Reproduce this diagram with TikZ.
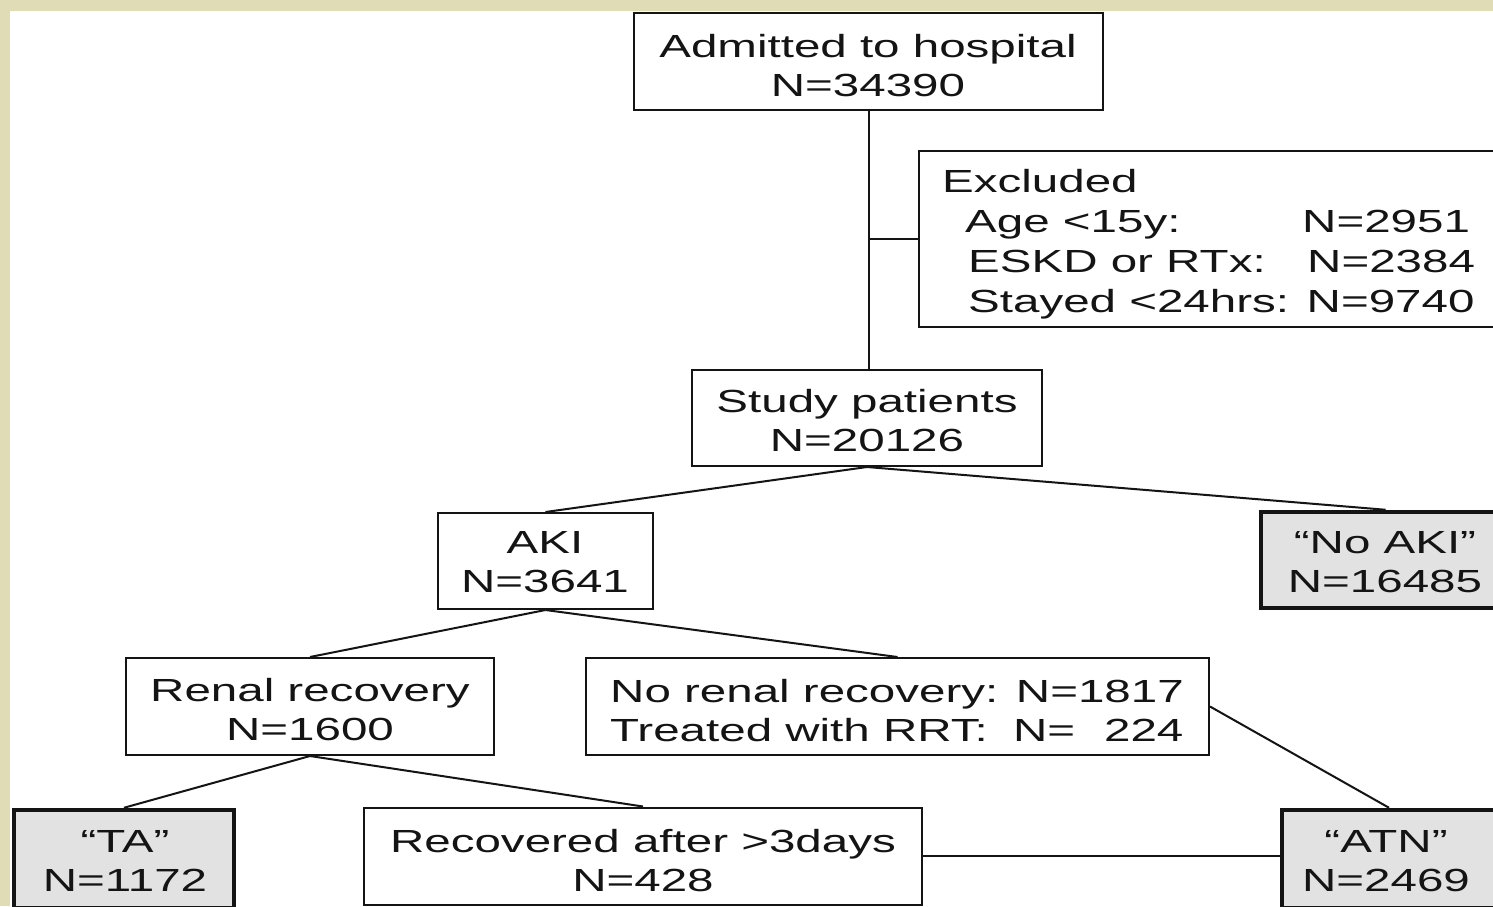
\documentclass[tikz,border=0pt]{standalone}
\usepackage{fontspec}
\setmainfont{Liberation Sans}
\usepackage{graphicx}
\usetikzlibrary{calc}
\definecolor{frame}{RGB}{224,220,181}
\definecolor{shade}{RGB}{226,226,226}
\definecolor{ink}{RGB}{20,20,20}
% text is set wide: Arial-like letters stretched horizontally
\newcommand{\wx}[1]{\scalebox{1.485}[1]{#1}}
\newcommand{\twolines}[2]{\wx{\begin{tabular}[b]{@{}c@{}}#1\\#2\end{tabular}}}

\begin{document}
\begin{tikzpicture}[x=1pt,y=-1pt,
  box/.style={draw=ink, line width=2pt, fill=white, inner sep=0pt, rectangle},
  keybox/.style={draw=ink, line width=4.5pt, fill=shade, inner sep=0pt, rectangle},
  txt/.style={inner sep=0pt, font=\fontsize{32}{39}\selectfont, anchor=base, text=ink},
  lefttxt/.style={txt, anchor=base west},
  link/.style={draw=ink, line width=2pt}]

\useasboundingbox (0,0) rectangle (1493,906);
\fill[frame] (0,0) rectangle (1493,906);
\fill[white] (10,11) rectangle (1493,906);
\clip (0,0) rectangle (1493,906);

% boxes
\node[box, minimum width=469pt, minimum height=97pt] (adm) at (868.5,61.5) {};
\node[box, minimum width=601pt, minimum height=176pt] (exc) at (1219.5,239) {};
\node[box, minimum width=350pt, minimum height=96pt] (study) at (867,418) {};
\node[box, minimum width=215pt, minimum height=96pt] (aki) at (545.5,561) {};
\node[keybox, minimum width=249pt, minimum height=96pt] (noaki) at (1385.5,560) {};
\node[box, minimum width=368pt, minimum height=97pt] (renal) at (310,706.5) {};
\node[box, minimum width=623pt, minimum height=97pt] (norenal) at (897.5,706.5) {};
\node[keybox, minimum width=220pt, minimum height=98pt] (ta) at (124,859) {};
\node[box, minimum width=558pt, minimum height=97pt] (rec) at (643,856) {};
\node[keybox, minimum width=214pt, minimum height=98pt] (atn) at (1389,859) {};

% texts
\node[txt] (admT) at (868,96) {\twolines{Admitted to hospital}{N=34390}};
\node[txt] (studyT) at (867,451) {\twolines{Study patients}{N=20126}};
\node[txt] (akiT) at (545,592.5) {\twolines{AKI}{N=3641}};
\node[txt] (noakiT) at (1385,592.5) {\twolines{“No AKI”}{N=16485}};
\node[txt] (renalT) at (310,740) {\twolines{Renal recovery}{N=1600}};
\node[txt] (recT) at (643,891) {\twolines{Recovered after >3days}{N=428}};
\node[txt] (taT) at (125,891) {\twolines{“TA”}{N=1172}};
\node[txt] (atnT) at (1386,891) {\twolines{“ATN”}{N=2469}};

\node[lefttxt] (norenalT) at (610,741) {\wx{\begin{tabular}[b]{@{}l@{}}No renal recovery: N=1817\\Treated with RRT:\hspace{17pt}N=\hspace{19.5pt}224\end{tabular}}};

\node[lefttxt] (excT) at (942,192) {\wx{Excluded}};
\node[lefttxt] (ageT) at (965,232) {\wx{Age <15y:}};
\node[lefttxt] (ageN) at (1302,232) {\wx{N=2951}};
\node[lefttxt] (eskdT) at (968,272) {\wx{ESKD or RTx:}};
\node[lefttxt] (eskdN) at (1307,272) {\wx{N=2384}};
\node[lefttxt] (stayT) at (968,312) {\wx{Stayed <24hrs: N=9740}};

% connectors
\draw[link] (adm.south) -- (adm.south |- study.north);
\coordinate (excJoin) at (exc.west -| adm.south);
\draw[link] (exc.west) -- (excJoin);
\draw[link] (study.south) -- (aki.north);
\draw[link] (study.south) -- (noaki.north);
\draw[link] (aki.south) -- (renal.north);
\draw[link] (aki.south) -- (norenal.north);
\draw[link] (norenal.east) -- (atn.north);
\draw[link] (renal.south) -- (ta.north);
\draw[link] (renal.south) -- (rec.north);
\draw[link] (rec.east) -- (rec.east -| atn.west);
\end{tikzpicture}
\end{document}
